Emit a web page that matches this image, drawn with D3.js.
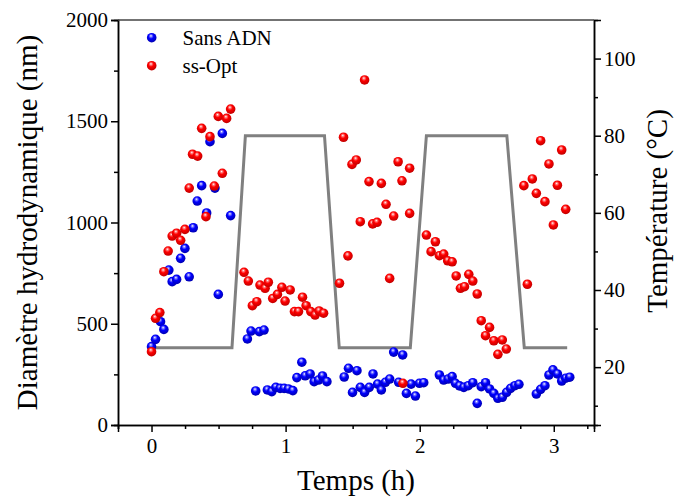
<!DOCTYPE html>
<html><head><meta charset="utf-8">
<script src="https://cdn.jsdelivr.net/npm/d3@7"></script>
<style>
html,body{margin:0;padding:0;background:#fff;}
</style></head>
<body>
<svg id="chart" width="677" height="497"></svg>
<script>
// ---- Data ----
const seriesNames = ["Sans ADN", "ss-Opt"];
const sansADN_t = [0,0.030,0.067,0.092,0.129,0.154,0.187,0.217,0.249,0.281,0.311,0.341,0.374,0.411,0.436,0.473,0.498,0.528,0.590,
  0.715,0.742,0.777,0.804,0.839,0.864,0.897,0.927,0.959,0.989,1.021,1.054,1.084,1.121,1.146,1.183,1.213,1.245,1.275,1.308,
  1.437,1.469,1.499,1.532,1.557,1.589,1.624,1.652,1.686,1.714,1.744,1.776,1.806,1.843,1.873,1.901,1.936,1.968,1.998,2.030,
  2.147,2.179,2.212,2.242,2.267,2.297,2.329,2.362,2.396,2.429,2.459,2.491,2.521,2.553,2.583,2.616,2.648,2.678,2.710,2.740,
  2.870,2.902,2.934,2.964,2.994,3.027,3.059,3.089,3.119];
const sansADN_d = [387,423,510,472,765,708,719,823,872,732,974,1106,1182,1047,1399,1170,645,1440,1034,
  425,464,168,461,469,173,165,186,181,181,178,170,234,310,243,252,214,222,242,214,
  237,280,161,268,186,161,186,252,202,173,211,227,360,211,346,156,202,143,206,209,
  247,222,227,239,206,193,186,194,209,107,189,209,178,156,132,137,161,181,194,201,
  153,176,194,247,272,252,217,231,236];
const ssOpt_t = [0,0.030,0.062,0.092,0.124,0.154,0.187,0.217,0.249,0.281,0.306,0.344,0.374,0.406,0.436,0.468,0.498,0.528,0.560,0.590,
  0.690,0.722,0.752,0.785,0.809,0.847,0.871,0.904,0.939,0.972,0.996,1.034,1.066,1.096,1.126,1.153,1.188,1.220,1.250,1.283,
  1.402,1.432,1.465,1.495,1.527,1.557,1.589,1.622,1.649,1.682,1.714,1.749,1.776,1.806,1.839,1.868,1.875,1.925,1.925,
  2.050,2.085,2.117,2.147,2.179,2.209,2.242,2.272,2.304,2.334,2.366,2.396,2.429,2.459,2.491,2.521,2.553,2.583,2.616,2.646,
  2.777,2.803,2.840,2.870,2.902,2.934,2.964,2.997,3.027,3.059,3.089];
const ssOpt_d = [362,527,555,757,859,933,947,912,966,1170,1337,1328,1465,1029,1424,1180,1524,1243,1514,1560,
  754,711,589,609,691,675,705,625,645,680,612,667,560,560,631,589,560,543,563,552,
  700,1421,835,1287,1309,1004,1704,1202,993,1001,1193,1090,724,1032,1300,1206,206,1268,1045,
  938,856,905,836,844,811,806,736,675,683,744,711,647,515,441,482,416,349,420,375,
  1182,695,1215,1144,1404,1103,1289,988,1184,1358,1065];
const temp_t = [0,0.6,0.7,1.29,1.4,1.93,2.05,2.65,2.78,3.1];
const temp_v = [25,25,80,80,25,25,80,80,25,25];
const xTicks = [0,1,2,3];
const yTicks = [0,500,1000,1500,2000];
const tTicks = [20,40,60,80,100];
const xTitle = "Temps (h)";
const yTitle = "Diamètre hydrodynamique (nm)";
const tTitle = "Température (°C)";

// ---- Layout ----
const FONT = "Liberation Serif";
const L = 118, R = 594, T = 20, B = 425;
const svg = d3.select("#chart");
const x = d3.scaleLinear().domain([-0.25, 3.3]).range([L, R]);
const y = d3.scaleLinear().domain([0, 2000]).range([B, T]);
const yT = d3.scaleLinear().domain([5, 110]).range([B, T]);

const defs = svg.append("defs");
function ball(id, c0, c1, c2) {
  const g = defs.append("radialGradient").attr("id", id).attr("cx", "45%").attr("cy", "40%").attr("r", "60%").attr("fx", "42%").attr("fy", "30%");
  g.append("stop").attr("offset", "0%").attr("stop-color", "#ffffff");
  g.append("stop").attr("offset", "18%").attr("stop-color", c0);
  g.append("stop").attr("offset", "45%").attr("stop-color", c1);
  g.append("stop").attr("offset", "100%").attr("stop-color", c2);
}
ball("gBlue", "#8080ff", "#0000ff", "#0000b0");
ball("gRed", "#ff8080", "#ff0000", "#c00000");

const fs = 21;
const axL = d3.axisLeft(y).tickValues(yTicks).tickSize(7).tickPadding(3).tickFormat(d3.format("d"));
const axLm = d3.axisLeft(y).tickValues(d3.range(250, 2000, 500)).tickSize(4).tickFormat("");
const axB = d3.axisBottom(x).tickValues(xTicks).tickSize(7).tickPadding(6).tickFormat(d3.format("d"));
const axBm = d3.axisBottom(x).tickValues([-0.25,0.25,0.5,0.75,1.25,1.5,1.75,2.25,2.5,2.75,3.25]).tickSize(4).tickFormat("");
const axR = d3.axisRight(yT).tickValues(tTicks).tickSize(7).tickPadding(3).tickFormat(d3.format("d"));
const axRm = d3.axisRight(yT).tickValues([10,30,50,70,90]).tickSize(4).tickFormat("");

function style(g) {
  g.attr("font-family", null);
  g.selectAll("path.domain").attr("stroke", "#000").attr("stroke-width", 1.5);
  g.selectAll(".tick line").attr("stroke", "#000").attr("stroke-width", 1.5);
  g.selectAll(".tick text").attr("font-size", fs).attr("fill", "#000").style("font-family", FONT);
}
[[axL, `translate(${L},0)`], [axLm, `translate(${L},0)`], [axB, `translate(0,${B})`], [axBm, `translate(0,${B})`], [axR, `translate(${R},0)`], [axRm, `translate(${R},0)`]]
  .forEach(([a, t]) => { const g = svg.append("g").attr("transform", t).call(a); style(g); });

svg.append("line").attr("x1", L).attr("x2", R).attr("y1", T).attr("y2", T).attr("stroke", "#444").attr("stroke-width", 1.5);

const tLine = d3.line().x((d, i) => x(temp_t[i])).y((d, i) => yT(temp_v[i]));
svg.append("path").attr("d", tLine(temp_t)).attr("fill", "none").attr("stroke", "#808080").attr("stroke-width", 3);

const r = 4.8;
svg.append("g").selectAll("circle").data(sansADN_t).join("circle")
  .attr("cx", (d) => x(d)).attr("cy", (d, i) => y(sansADN_d[i])).attr("r", r).attr("fill", "url(#gBlue)");
svg.append("g").selectAll("circle").data(ssOpt_t).join("circle")
  .attr("cx", (d) => x(d)).attr("cy", (d, i) => y(ssOpt_d[i])).attr("r", r).attr("fill", "url(#gRed)");

const leg = svg.append("g");
[["url(#gBlue)", 37.7], ["url(#gRed)", 65.7]].forEach(([f, cy], i) => {
  leg.append("circle").attr("cx", 151.7).attr("cy", cy).attr("r", r).attr("fill", f);
  leg.append("text").attr("x", 182.5).attr("y", cy + 7).attr("font-size", fs).style("font-family", FONT).text(seriesNames[i]);
});

svg.append("text").attr("x", (L + R) / 2).attr("y", 490).attr("text-anchor", "middle").attr("font-size", 29).style("font-family", FONT).text(xTitle);
svg.append("text").attr("transform", `translate(37,${(T + B) / 2}) rotate(-90)`).attr("text-anchor", "middle").attr("font-size", 29).style("font-family", FONT).text(yTitle);
svg.append("text").attr("transform", `translate(667,211) rotate(-90)`).attr("text-anchor", "middle").attr("font-size", 29).style("font-family", FONT).text(tTitle);
</script>
</body></html>
